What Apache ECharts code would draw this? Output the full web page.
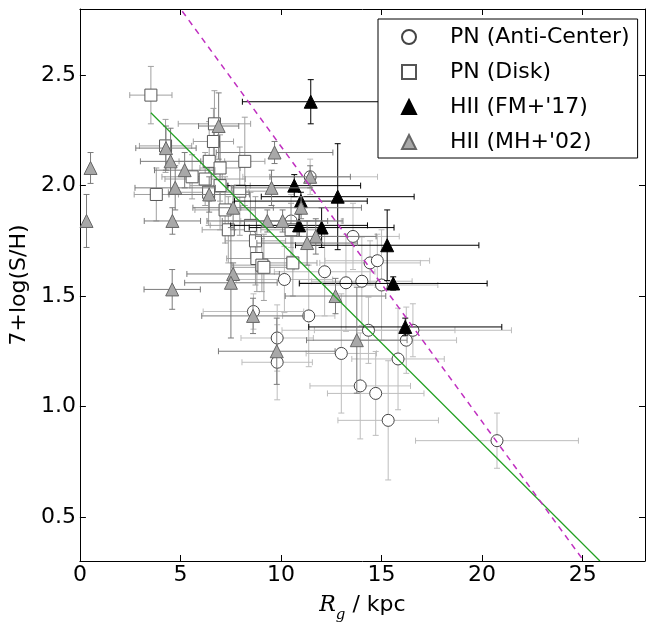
<!DOCTYPE html>
<html><head><meta charset="utf-8">
<script src="https://cdn.jsdelivr.net/npm/echarts@6/dist/echarts.min.js"></script>
<style>html,body{margin:0;padding:0;background:#fff}#c{width:648px;height:628px}</style>
</head><body><div id="c"></div>
<script>
// ---- data (Rg in kpc, 7+log(S/H)) ----
const acX  = [11.45,10.5,13.58,14.43,14.79,12.17,10.17,13.23,14.02,15.0,8.63,11.38,14.35,16.56,16.23,13.0,15.82,9.81,9.81,13.94,14.71,15.33,20.74];
const acY  = [2.04,1.84,1.77,1.65,1.66,1.61,1.575,1.56,1.567,1.55,1.43,1.41,1.345,1.345,1.30,1.24,1.215,1.31,1.20,1.093,1.059,0.937,0.845];
const acXe = [3.35,2.5,2.3,2.5,2.6,2.5,2.4,2.3,2.5,2.8,2.5,1.3,4.3,4.9,2.5,1.75,2.3,1.8,1.75,2.5,2.4,2.5,4.05];
const acYe = [0.08,0.12,0.15,0.10,0.12,0.20,0.15,0.22,0.20,0.25,0.08,0.23,0.15,0.12,0.15,0.27,0.23,0.15,0.17,0.24,0.19,0.27,0.125];

const dkX  = [3.53,6.69,6.64,4.26,6.43,8.2,6.97,5.58,6.23,6.97,6.4,7.95,3.8,7.22,7.38,8.48,8.73,8.8,9.05,9.15,10.59,10.5];
const dkY  = [2.41,2.28,2.20,2.18,2.11,2.11,2.08,2.04,2.03,2.0,1.97,1.975,1.96,1.89,1.80,1.82,1.75,1.67,1.64,1.63,1.65,1.80];
const dkXe = [1.05,1.8,1.0,1.3,1.5,1.0,1.0,1.5,2.0,1.5,2.0,1.5,1.1,1.5,1.3,2.0,1.5,1.5,1.5,1.5,1.2,1.5];
const dkYe = [0.13,0.15,0.15,0.12,0.18,0.2,0.15,0.1,0.12,0.2,0.15,0.2,0.12,0.15,0.15,0.15,0.2,0.15,0.12,0.15,0.15,0.12];

const fmX  = [11.48,10.66,12.82,10.99,10.9,12.02,15.28,15.58,16.18];
const fmY  = [2.38,2.0,1.95,1.93,1.82,1.81,1.73,1.557,1.36];
const fmXe = [3.4,3.3,3.8,3.3,3.4,3.6,4.56,4.67,4.8];
const fmYe = [0.1,0.05,0.24,0.04,0.05,0.09,0.16,0.03,0.04];

const mhX  = [0.53,0.33,6.9,4.28,4.51,5.21,4.74,9.68,9.53,11.45,6.43,4.6,7.62,9.32,10.08,11.0,11.73,11.3,7.62,7.51,4.59,12.71,8.61,9.79,13.77];
const mhY  = [2.08,1.84,2.27,2.17,2.11,2.07,1.99,2.15,1.99,2.04,1.96,1.84,1.90,1.84,1.84,1.90,1.77,1.74,1.60,1.56,1.53,1.50,1.41,1.25,1.30];
const mhXe = [0,0,1.0,1.5,1.5,1.5,2.0,2.9,2.0,2.0,2.0,1.4,2.0,3.0,3.0,3.0,3.0,2.5,2.3,2.3,1.4,2.5,2.55,2.9,2.5];
const mhYe = [0.07,0.12,0.15,0.1,0.15,0.08,0.1,0.05,0.08,0.05,0.08,0.06,0.1,0.05,0.05,0.05,0.08,0.1,0.05,0.25,0.09,0.08,0.08,0.15,0.24];

const greenX = [3.53, 25.86];
const greenY = [2.33, 0.30];
const magX = [5.09, 25.06];
const magY = [2.79, 0.30];

const xTicks = [0,5,10,15,20,25];
const yTicks = [0.5,1.0,1.5,2.0,2.5];
const names = ['PN (Anti-Center)','PN (Disk)',"HII (FM+'17)","HII (MH+'02)"];

// ---- build ----
const zip4 = (a,b,c,d)=>a.map((v,i)=>[v,b[i],c[i],d[i]]);
const zip2 = (a,b)=>a.map((v,i)=>[v,b[i]]);
const FONT = 'DejaVu Sans';

function errSeries(data, color, z){
  return {
    type:'custom', coordinateSystem:'cartesian2d', z:z, silent:true, clip:true,
    encode:{x:0,y:1},
    data:data,
    renderItem:function(params, api){
      const x=api.value(0), y=api.value(1), xe=api.value(2), ye=api.value(3);
      const st={stroke:color, lineWidth:1, fill:null};
      const cap=3, ch=[];
      if(xe>0){
        const L=api.coord([x-xe,y]), R=api.coord([x+xe,y]);
        ch.push({type:'line',shape:{x1:L[0],y1:L[1],x2:R[0],y2:R[1]},style:st});
        ch.push({type:'line',shape:{x1:L[0],y1:L[1]-cap,x2:L[0],y2:L[1]+cap},style:st});
        ch.push({type:'line',shape:{x1:R[0],y1:R[1]-cap,x2:R[0],y2:R[1]+cap},style:st});
      }
      if(ye>0){
        const T=api.coord([x,y+ye]), B=api.coord([x,y-ye]);
        ch.push({type:'line',shape:{x1:T[0],y1:T[1],x2:B[0],y2:B[1]},style:st});
        ch.push({type:'line',shape:{x1:T[0]-cap,y1:T[1],x2:T[0]+cap,y2:T[1]},style:st});
        ch.push({type:'line',shape:{x1:B[0]-cap,y1:B[1],x2:B[0]+cap,y2:B[1]},style:st});
      }
      return {type:'group',children:ch};
    }
  };
}

function markSeries(name, data, symbol, size, fill, edge, z){
  return {type:'scatter', name:name, data:data, symbol:symbol, symbolSize:size, z:z,
    itemStyle:{color:fill, borderColor:edge, borderWidth:1, opacity:1},
    emphasis:{disabled:true}};
}

const XMAX = 28.1, YMIN = 0.3, YMAX = 2.8;
const axisBase = {
  axisLine:{show:true,onZero:false,lineStyle:{color:'#000',width:1}},
  splitLine:{show:false}
};

const option = {
  animation:false,
  backgroundColor:'#fff',
  grid:{left:73, right:3, top:9, bottom:57, containLabel:false},
  xAxis:[
    Object.assign({type:'value', min:0, max:XMAX, position:'bottom',
      axisTick:{inside:true,length:6,customValues:xTicks,lineStyle:{color:'#000'}},
      axisLabel:{customValues:xTicks,fontSize:22,color:'#000',fontFamily:FONT,margin:3,formatter:v=>String(v)},
      name:'{i|R}{s|g}{t| / kpc}', nameLocation:'middle', nameGap:26,
      nameTextStyle:{fontSize:22,color:'#000',fontFamily:FONT,rich:{
        i:{fontSize:22,fontStyle:'italic',fontFamily:'DejaVu Serif',color:'#000',lineHeight:26},
        s:{fontSize:15,fontStyle:'italic',fontFamily:'DejaVu Serif',color:'#000',verticalAlign:'bottom',lineHeight:36},
        t:{fontSize:22,fontFamily:FONT,color:'#000',lineHeight:26}}}
    },axisBase),
    Object.assign({type:'value', min:0, max:XMAX, position:'top',
      axisTick:{inside:true,length:6,customValues:xTicks,lineStyle:{color:'#000'}},
      axisLabel:{show:false}},axisBase)
  ],
  yAxis:[
    Object.assign({type:'value', min:YMIN, max:YMAX, position:'left',
      axisTick:{inside:true,length:6,customValues:yTicks,lineStyle:{color:'#000'}},
      axisLabel:{customValues:yTicks,fontSize:22,color:'#000',fontFamily:FONT,margin:4,formatter:v=>v.toFixed(1)},
      name:'7+log(S/H)', nameLocation:'middle', nameGap:35,
      nameTextStyle:{fontSize:22,color:'#000',fontFamily:FONT}
    },axisBase),
    Object.assign({type:'value', min:YMIN, max:YMAX, position:'right',
      axisTick:{inside:true,length:6,customValues:yTicks,lineStyle:{color:'#000'}},
      axisLabel:{show:false}},axisBase)
  ],
  legend:{
    data:names, orient:'vertical', left:378, top:19, z:20,
    backgroundColor:'#fff', borderColor:'#000', borderWidth:1, borderRadius:0,
    padding:[7,8,5,23], itemGap:13, itemWidth:14, itemHeight:14,
    selectedMode:false,
    textStyle:{fontSize:22,color:'#000',fontFamily:FONT,lineHeight:22,padding:[0,0,0,29]}
  },
  series:[
    errSeries(zip4(acX,acY,acXe,acYe),'#bdbdbd',2),
    markSeries(names[0], zip2(acX,acY),'circle',12,'#fff','#444',3),
    errSeries(zip4(dkX,dkY,dkXe,dkYe),'#a0a0a0',4),
    markSeries(names[1], zip2(dkX,dkY),'rect',12,'#fff','#555',5),
    errSeries(zip4(fmX,fmY,fmXe,fmYe),'#000',6),
    markSeries(names[2], zip2(fmX,fmY),'triangle',13,'#000','#000',7),
    errSeries(zip4(mhX,mhY,mhXe,mhYe),'#7a7a7a',8),
    markSeries(names[3], zip2(mhX,mhY),'triangle',13,'#a8a8a8','#666',9),
    {type:'line', data:zip2(greenX,greenY), symbol:'none', z:10, silent:true, clip:true,
      lineStyle:{color:'#22a022',width:1.2}},
    {type:'line', data:zip2(magX,magY), symbol:'none', z:10, silent:true, clip:true,
      lineStyle:{color:'#c030c0',width:1.5,type:[6,5]}}
  ]
};
const chart = echarts.init(document.getElementById('c'), null, {renderer:'canvas'});
chart.setOption(option);
</script></body></html>
